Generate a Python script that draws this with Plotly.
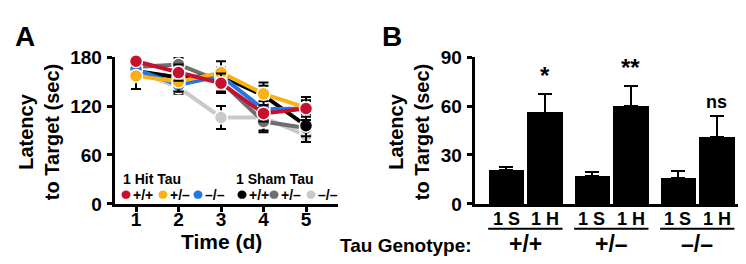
import plotly.graph_objects as go

# ---------------- Panel A data ----------------
days = [1, 2, 3, 4, 5]
series_names = ["1 Sham Tau −/−", "1 Sham Tau +/−", "1 Sham Tau +/+",
                "1 Hit Tau −/−", "1 Hit Tau +/−", "1 Hit Tau +/+"]
sham_ko = [163, 143, 106, 106, 84]
sham_het = [168, 171, 150, 101, 93]
sham_wt = [163, 155, 157, 133, 96]
hit_ko = [165, 146, 157, 116, 117]
hit_het = [157, 150, 161, 135, 118]
hit_wt = [175, 161, 148, 111, 117]
sham_ko_err = [6, 8, 14, 16, 8]
sham_het_err = [6, 8, 12, 13, 10]
sham_wt_err = [8, 8, 10, 12, 20]
hit_ko_err = [6, 8, 10, 10, 10]
hit_het_err = [16, 12, 14, 14, 8]
hit_wt_err = [6, 10, 12, 10, 14]
colors_a = ["#c9c9c9", "#6e6e6e", "#000000", "#1f78e6", "#f9b115", "#c8102e"]
a_ticks = [0, 60, 120, 180]

# ---------------- Panel B data ----------------
genotypes = ["+/+", "+/–", "–/–"]
groups = ["1 S", "1 H"]
bar_pos = [0, 0.9, 2, 2.9, 4, 4.9]
bar_vals = [21, 56, 17, 60, 16, 41]
bar_errs = [1.7, 11.5, 2.3, 12.4, 4.2, 12.8]
sig = ["", "*", "", "**", "", "ns"]
b_ticks = [0, 30, 60, 90]

W, H = 746, 264
FONT = "Liberation Sans"


def px(x):
    return x / W


def py(y):
    return (H - y) / H


fig = go.Figure()

all_series = [sham_ko, sham_het, sham_wt, hit_ko, hit_het, hit_wt]
all_errs = [sham_ko_err, sham_het_err, sham_wt_err, hit_ko_err, hit_het_err, hit_wt_err]
for name, vals, errs, col in zip(series_names, all_series, all_errs, colors_a):
    fig.add_trace(go.Scatter(
        x=days, y=vals, name=name, mode="lines+markers",
        line=dict(color=col, width=4),
        marker=dict(color=col, size=13, line=dict(color="white", width=1.5)),
        error_y=dict(type="data", array=errs, color="black", thickness=2, width=5),
        xaxis="x", yaxis="y", showlegend=False, cliponaxis=False))

fig.add_trace(go.Bar(
    x=bar_pos, y=bar_vals, width=0.83, marker=dict(color="black", line=dict(width=0)),
    error_y=dict(type="data", array=bar_errs, arrayminus=[0] * len(bar_errs),
                 symmetric=False, color="black", thickness=2, width=7),
    xaxis="x2", yaxis="y2", showlegend=False))

ydom = [py(202), py(42.5)]
axis_common = dict(showline=True, linecolor="black", linewidth=2.5, ticks="outside",
                   ticklen=5, tickwidth=2.5, tickcolor="black", showgrid=False, zeroline=False,
                   tickfont=dict(family=FONT, size=19, color="black", weight="bold"))

fig.update_layout(
    width=W, height=H, margin=dict(l=0, r=0, t=0, b=0),
    paper_bgcolor="white", plot_bgcolor="white",
    font=dict(family=FONT, color="black"),
    xaxis=dict(domain=[px(106.5), px(330)], range=[0.494, 5.753], tickvals=days,
               anchor="y", ticklabelstandoff=-8, **axis_common),
    yaxis=dict(domain=ydom, range=[0, 180], tickvals=a_ticks, anchor="x",
               ticklabelstandoff=1, **axis_common),
    xaxis2=dict(domain=[px(466.5), px(741.7)], range=[-0.733, 5.67], showline=True,
                linecolor="black", linewidth=2.5, ticks="", showticklabels=False,
                showgrid=False, zeroline=False, anchor="y2"),
    yaxis2=dict(domain=ydom, range=[0, 90], tickvals=b_ticks, anchor="x2",
                ticklabelstandoff=1, **axis_common),
    bargap=0,
)

ann = []
shapes = []
bold = lambda s: "<b>" + s + "</b>"


def note(text, x, y, size, xref="paper", yref="paper", xanchor="center",
         yanchor="middle", **kw):
    ann.append(dict(text=bold(text), x=x, y=y, xref=xref, yref=yref, xanchor=xanchor,
                    yanchor=yanchor, showarrow=False, font=dict(size=size), **kw))


# panel letters
note("A", px(17), py(20), 28)
note("B", px(384), py(20), 28)
# y titles
for xc in (31, 401):
    note("Latency<br>to Target (sec)", px(xc), py(124), 20, textangle=-90)
# x title A
note("Time (d)", px(213), py(243), 21)

# legend in panel A
note("1 Hit Tau", px(113), py(175), 14, xanchor="left")
note("1 Sham Tau", px(226), py(175), 14, xanchor="left")
leg_order = [5, 4, 3, 2, 1, 0]
leg_labels = ["+/+", "+/–", "–/–", "+/+", "+/–", "–/–"]
leg_x = [118, 155, 190, 234, 266, 303]
for i, lab, lx in zip(leg_order, leg_labels, leg_x):
    shapes.append(dict(type="circle", xref="paper", yref="paper",
                       x0=px(lx - 4.5), x1=px(lx + 4.5), y0=py(192 + 4.5), y1=py(192 - 4.5),
                       fillcolor=colors_a[i], line=dict(width=0)))
    note(lab, px(lx + 5), py(192), 14, xanchor="left")

# panel B group labels
for i, p in enumerate(bar_pos):
    note(groups[i % 2], p, py(218), 18, xref="x2")
    if sig[i]:
        note(sig[i], p, bar_vals[i] + bar_errs[i] + 1.5, 24 if "*" in sig[i] else 18,
             xref="x2", yref="y2", yanchor="bottom")
for g, gname in enumerate(genotypes):
    p0, p1 = bar_pos[2 * g], bar_pos[2 * g + 1]
    shapes.append(dict(type="line", xref="x2", yref="paper", x0=p0 - 0.415, x1=p1 + 0.415,
                       y0=py(229), y1=py(229), line=dict(color="black", width=2)))
    note(gname, (p0 + p1) / 2, py(246), 23, xref="x2")
note("Tau Genotype:", px(398), py(247), 19)

fig.update_layout(annotations=ann, shapes=shapes)
fig.write_html("out.html")
